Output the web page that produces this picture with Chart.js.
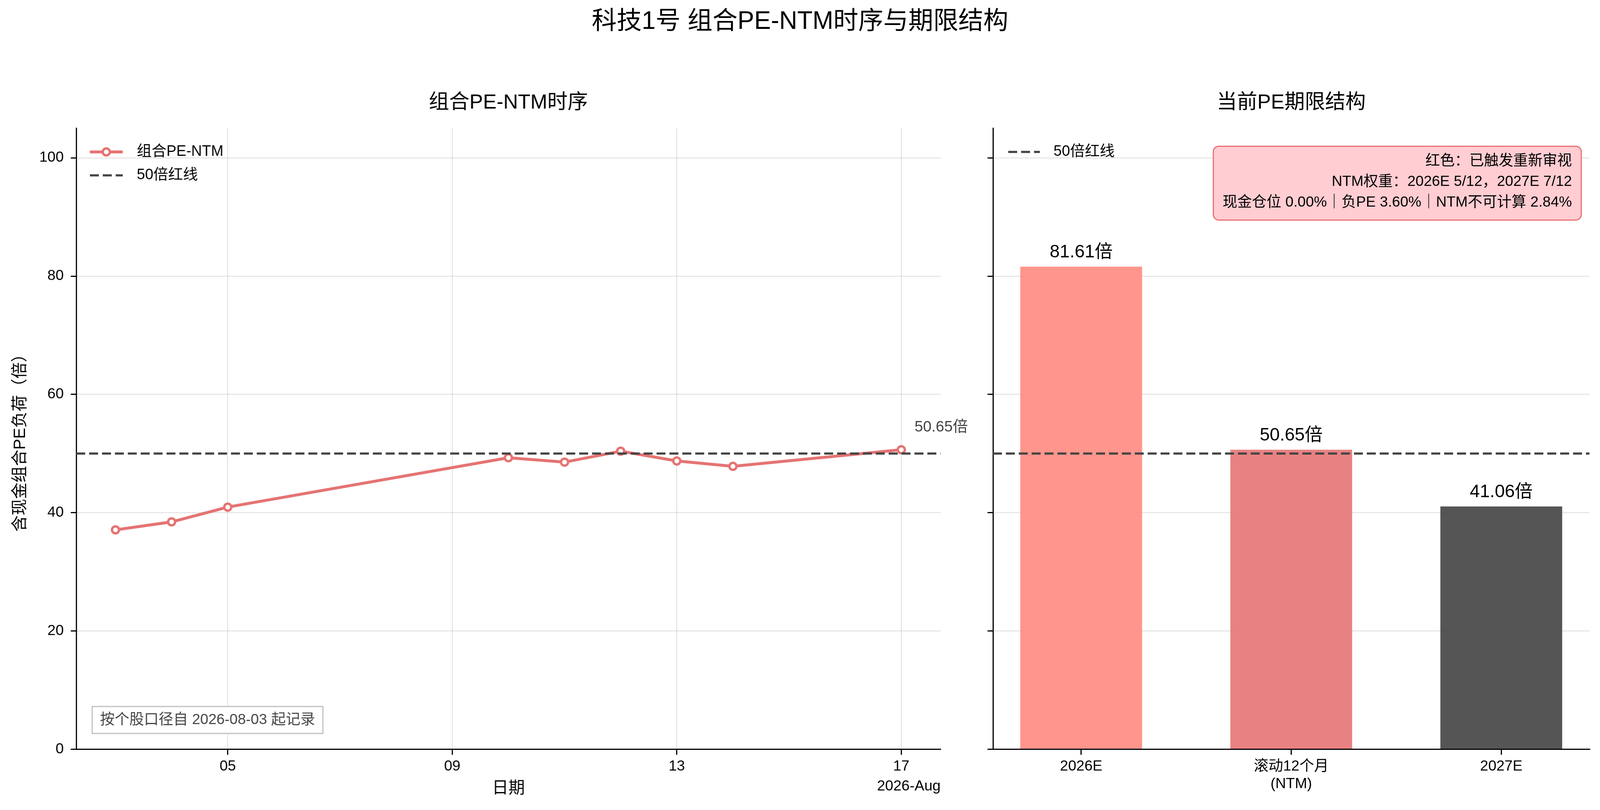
<!DOCTYPE html>
<html lang="zh-CN">
<head>
<meta charset="utf-8">
<title>科技1号 组合PE-NTM时序与期限结构</title>
<script src="https://cdn.jsdelivr.net/npm/chart.js@4.4.1/dist/chart.umd.min.js"></script>
<style>
  html, body { margin: 0; padding: 0; background: #fff; }
  body { width: 100vw; height: 2074px; position: relative; overflow: hidden; }
  .suptitle {
    position: absolute; left: 0; top: 20px; width: 100%; text-align: center;
    font: 64px "Liberation Sans", "Noto Sans CJK SC", sans-serif; line-height: 64px; color: #000;
  }
  .panel { position: absolute; top: 0; height: 2074px; }
</style>
</head>
<body>
<div class="suptitle">科技1号 组合PE-NTM时序与期限结构</div>
<div class="panel" id="panel-ts"><canvas id="chart-ts"></canvas></div>
<div class="panel" id="panel-term"><canvas id="chart-term"></canvas></div>
<script>
// --- data ---------------------------------------------------------------------

const DAYS = [3, 4, 5, 10, 11, 12, 13, 14, 17];          // day of month, 2026-08
const PE_NTM = [37.1, 38.45, 40.95, 49.3, 48.55, 50.4, 48.75, 47.85, 50.65];
const DAY_TICKS = [5, 9, 13, 17];
const DAY_TICK_LABELS = ['05', '09', '13', '17'];
const DATE_OFFSET_LABEL = '2026-Aug';

const TERMS = ['2026E', ['滚动12个月', '(NTM)'], '2027E'];
const TERM_PE = [81.61, 50.65, 41.06];

const RED_LINE = 50;
const Y_TICKS = [0, 20, 40, 60, 80, 100];

const START_NOTE = '按个股口径自 2026-08-03 起记录';
const STATUS_LINES = [
  '红色：已触发重新审视',
  'NTM权重：2026E 5/12，2027E 7/12',
  '现金仓位 0.00%｜负PE 3.60%｜NTM不可计算 2.84%',
];

// --- style / layout -----------------------------------------------------------

const FONT = '"Liberation Sans", "Noto Sans CJK SC", sans-serif';
const LINE_COLOR = '#E57373';
const RED_LINE_COLOR = '#444444';
const BAR_COLORS = ['rgba(255,138,128,0.9)', 'rgba(229,115,115,0.9)', 'rgba(66,66,66,0.9)'];
const GRID = 'rgba(176,176,176,0.3)';
const TS_RANGE = [2.3, 17.7];
const TERM_RANGE = [-0.42, 2.42];
const AREA_TOP = 328.4;
const XAXIS_H = 155.4;

// Margins stay fixed (they hold text); the two plot areas share the rest 2965:2047.
const MARGIN_L = 195;
const GAP = 135;
const MARGIN_R = 27;
const TERM_YAXIS_W = 55;
const TS_PAD_R = 80;
const SPLIT = 2965 / (2965 + 2047);

const W = window.innerWidth || 5369;
const tsRight = MARGIN_L + (W - MARGIN_L - GAP - MARGIN_R) * SPLIT;
const termLeft = tsRight + GAP;

const tsPanel = document.getElementById('panel-ts');
tsPanel.style.left = '0px';
tsPanel.style.width = (tsRight + TS_PAD_R) + 'px';
const termPanel = document.getElementById('panel-term');
termPanel.style.left = (termLeft - TERM_YAXIS_W) + 'px';
termPanel.style.width = (W - termLeft + TERM_YAXIS_W) + 'px';

Chart.defaults.font.family = FONT;
Chart.defaults.color = '#000';

function font(size) {
  return size + 'px ' + FONT;
}

function yScale(width, showLabels, title) {
  return {
    min: 0,
    max: 105,
    afterBuildTicks: (s) => { s.ticks = Y_TICKS.map((v) => ({ value: v })); },
    afterFit: (s) => { s.width = width; },
    ticks: { display: showLabels, padding: 18, font: { size: 37.5 } },
    grid: { color: GRID, lineWidth: 3, tickColor: '#000', tickWidth: 3, tickLength: 14 },
    border: { color: '#000', width: 3 },
    title: title || { display: false },
  };
}

function xScale(range, ticks, labelOf, gridOnArea) {
  return {
    type: 'linear',
    min: range[0],
    max: range[1],
    offset: false,
    afterBuildTicks: (s) => { s.ticks = ticks.map((v) => ({ value: v })); },
    afterFit: (s) => { s.height = XAXIS_H; },
    ticks: { callback: (v, i) => labelOf(i), autoSkip: false, maxRotation: 0, padding: 8, font: { size: 37.5 } },
    grid: {
      offset: false, drawOnChartArea: gridOnArea, color: GRID, lineWidth: 3,
      tickColor: '#000', tickWidth: 3, tickLength: 14,
    },
    border: { color: '#000', width: 3 },
  };
}

// --- plugins ------------------------------------------------------------------

// Subplot title centred over the plot area (not the canvas).
const panelTitle = {
  id: 'panelTitle',
  afterDraw(chart, args, opts) {
    const { ctx, chartArea } = chart;
    ctx.save();
    ctx.font = font(52);
    ctx.fillStyle = '#000';
    ctx.textAlign = 'center';
    ctx.textBaseline = 'middle';
    ctx.fillText(opts.text, (chartArea.left + chartArea.right) / 2, 264);
    ctx.restore();
  },
};

// matplotlib-style legend inside the axes, upper left.
const insideLegend = {
  id: 'insideLegend',
  afterDraw(chart, args, opts) {
    const { ctx, chartArea } = chart;
    opts.items.forEach((idx, row) => {
      const ds = chart.data.datasets[idx];
      const y = chartArea.top + 60.6 + row * 60;
      const x0 = chartArea.left + opts.left;
      const x1 = x0 + opts.sample;
      ctx.save();
      ctx.strokeStyle = ds.borderColor;
      ctx.lineWidth = ds.borderWidth;
      ctx.setLineDash(ds.borderDash || []);
      ctx.beginPath();
      ctx.moveTo(x0, y);
      ctx.lineTo(x1, y);
      ctx.stroke();
      if (ds.pointRadius) {
        ctx.setLineDash([]);
        ctx.beginPath();
        ctx.arc((x0 + x1) / 2, y, ds.pointRadius, 0, Math.PI * 2);
        ctx.fillStyle = ds.pointBackgroundColor;
        ctx.fill();
        ctx.lineWidth = ds.pointBorderWidth;
        ctx.strokeStyle = ds.pointBorderColor;
        ctx.stroke();
      }
      ctx.font = font(38);
      ctx.fillStyle = '#000';
      ctx.textAlign = 'left';
      ctx.textBaseline = 'middle';
      ctx.fillText(ds.label, chartArea.left + 155, y);
      ctx.restore();
    });
  },
};

const tsNotes = {
  id: 'tsNotes',
  afterDraw(chart) {
    const { ctx, chartArea, scales } = chart;
    const last = PE_NTM.length - 1;
    const px = scales.x.getPixelForValue(DAYS[last]);
    const py = scales.y.getPixelForValue(PE_NTM[last]);
    ctx.save();
    // latest value
    ctx.font = font(39);
    ctx.fillStyle = '#444';
    ctx.textAlign = 'left';
    ctx.textBaseline = 'middle';
    ctx.fillText(PE_NTM[last].toFixed(2) + '倍', px + 34, py - 57);

    // record-start note, lower left
    ctx.font = font(37.5);
    const w = ctx.measureText(START_NOTE).width + 40;
    const bx = chartArea.left + 41;
    const by = chartArea.bottom - 40.6 - 69;
    ctx.fillStyle = '#fff';
    ctx.fillRect(bx, by, w, 69);
    ctx.strokeStyle = '#c0c0c0';
    ctx.lineWidth = 3;
    ctx.strokeRect(bx, by, w, 69);
    ctx.fillStyle = '#444';
    ctx.fillText(START_NOTE, bx + 20, by + 34.5);

    // concise-date offset under the last tick
    ctx.fillStyle = '#000';
    ctx.textAlign = 'right';
    ctx.textBaseline = 'alphabetic';
    ctx.fillText(DATE_OFFSET_LABEL, chartArea.right, 2024);
    ctx.restore();
  },
};

const termNotes = {
  id: 'termNotes',
  afterDraw(chart) {
    const { ctx, chartArea } = chart;
    const bars = chart.getDatasetMeta(1).data;
    ctx.save();
    ctx.font = font(46);
    ctx.fillStyle = '#000';
    ctx.textAlign = 'center';
    ctx.textBaseline = 'alphabetic';
    bars.forEach((bar, i) => {
      ctx.fillText(TERM_PE[i].toFixed(2) + '倍', bar.x, bar.y - 24);
    });

    // status box, upper right
    ctx.font = font(37.5);
    const textW = Math.max(...STATUS_LINES.map((l) => ctx.measureText(l).width));
    const right = chartArea.right - 21;
    const top = chartArea.top + 46;
    const w = textW + 48;
    ctx.beginPath();
    ctx.roundRect(right - w, top, w, 189, 14);
    ctx.fillStyle = '#FFCDD2';
    ctx.fill();
    ctx.strokeStyle = '#E57373';
    ctx.lineWidth = 3;
    ctx.stroke();
    ctx.fillStyle = '#000';
    ctx.textAlign = 'right';
    ctx.textBaseline = 'middle';
    STATUS_LINES.forEach((line, k) => {
      ctx.fillText(line, right - 24, top + 38 + k * 53);
    });
    ctx.restore();
  },
};

// --- charts -------------------------------------------------------------------

function renderTimeSeries() {
  new Chart(document.getElementById('chart-ts'), {
    type: 'line',
    data: {
      datasets: [
        {
          label: '组合PE-NTM',
          data: DAYS.map((d, i) => ({ x: d, y: PE_NTM[i] })),
          borderColor: LINE_COLOR,
          borderWidth: 7.5,
          pointRadius: 9,
          pointBorderWidth: 6,
          pointBackgroundColor: '#fff',
          pointBorderColor: LINE_COLOR,
          order: 1,
        },
        {
          label: '50倍红线',
          data: TS_RANGE.map((x) => ({ x, y: RED_LINE })),
          borderColor: RED_LINE_COLOR,
          borderWidth: 5.5,
          borderDash: [23, 10],
          pointRadius: 0,
          order: 0,
        },
      ],
    },
    options: {
      responsive: true,
      maintainAspectRatio: false,
      devicePixelRatio: 1,
      animation: false,
      events: [],
      layout: { padding: { top: AREA_TOP, right: TS_PAD_R, left: 0, bottom: 0 } },
      plugins: {
        legend: { display: false },
        tooltip: { enabled: false },
        panelTitle: { text: '组合PE-NTM时序' },
        insideLegend: { items: [0, 1], left: 35, sample: 84 },
      },
      scales: {
        x: {
          ...xScale(TS_RANGE, DAY_TICKS, (i) => DAY_TICK_LABELS[i], true),
          title: { display: true, text: '日期', font: { size: 42 }, padding: { top: 0, bottom: 29 } },
        },
        y: yScale(MARGIN_L, true, {
          display: true, text: '含现金组合PE负荷（倍）', font: { size: 42 }, padding: { top: 27, bottom: 0 },
        }),
      },
    },
    plugins: [panelTitle, insideLegend, tsNotes],
  });
}

function renderTermStructure() {
  new Chart(document.getElementById('chart-term'), {
    type: 'bar',
    data: {
      datasets: [
        {
          type: 'line',
          label: '50倍红线',
          data: TERM_RANGE.map((x) => ({ x, y: RED_LINE })),
          borderColor: RED_LINE_COLOR,
          borderWidth: 5.5,
          borderDash: [23, 10],
          pointRadius: 0,
          order: 0,
        },
        {
          type: 'bar',
          label: 'PE',
          data: TERM_PE.map((v, i) => ({ x: i, y: v })),
          backgroundColor: BAR_COLORS,
          barPercentage: 0.58,
          categoryPercentage: 1,
          order: 1,
        },
      ],
    },
    options: {
      responsive: true,
      maintainAspectRatio: false,
      devicePixelRatio: 1,
      animation: false,
      events: [],
      layout: { padding: { top: AREA_TOP, right: MARGIN_R, left: 0, bottom: 0 } },
      plugins: {
        legend: { display: false },
        tooltip: { enabled: false },
        panelTitle: { text: '当前PE期限结构' },
        insideLegend: { items: [0], left: 39, sample: 81 },
      },
      scales: {
        x: xScale(TERM_RANGE, [0, 1, 2], (i) => TERMS[i], false),
        y: { ...yScale(TERM_YAXIS_W, false), z: 1 },
      },
    },
    plugins: [panelTitle, insideLegend, termNotes],
  });
}

renderTimeSeries();
renderTermStructure();
</script>
</body>
</html>
